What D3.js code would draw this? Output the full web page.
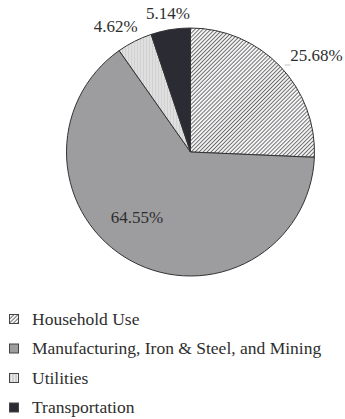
<!DOCTYPE html>
<html>
<head>
<meta charset="utf-8">
<script src="https://cdn.jsdelivr.net/npm/d3@7"></script>
<style>
  body { margin: 0; background: #fff; }
  text { font-family: "Liberation Serif", "DejaVu Serif", serif; fill: #2e2e2e; }
</style>
</head>
<body>
<div id="chart"></div>
<script>
// data
var categories = ['Household Use', 'Manufacturing, Iron & Steel, and Mining', 'Utilities', 'Transportation']
var values = [25.68, 64.55, 4.62, 5.14]
var labels = ['25.68%', '64.55%', '4.62%', '5.14%']

var width = 345, height = 419
var cx = 190.5, cy = 152, r = 124

var svg = d3.select('#chart').append('svg')
  .attr('width', width)
  .attr('height', height)

// patterns
var defs = svg.append('defs')
var hatch = defs.append('pattern')
  .attr('id', 'hatch')
  .attr('patternUnits', 'userSpaceOnUse')
  .attr('width', 2.8).attr('height', 2.8)
  .attr('patternTransform', 'rotate(45)')
hatch.append('rect').attr('width', 2.8).attr('height', 2.8).attr('fill', '#f4f4f4')
hatch.append('line').attr('x1', 0).attr('y1', 0).attr('x2', 0).attr('y2', 2.8)
  .attr('stroke', '#4a4a4e').attr('stroke-width', 1.5)

var vstripe = defs.append('pattern')
  .attr('id', 'vstripe')
  .attr('patternUnits', 'userSpaceOnUse')
  .attr('width', 3).attr('height', 3)
vstripe.append('rect').attr('width', 3).attr('height', 3).attr('fill', '#ededed')
vstripe.append('line').attr('x1', 1).attr('y1', 0).attr('x2', 1).attr('y2', 3)
  .attr('stroke', '#b5b5b5').attr('stroke-width', 1)

var fills = ['url(#hatch)', '#9d9d9f', 'url(#vstripe)', '#2b2c33']

var pie = d3.pie().sort(null).value(d => d)
var arcs = pie(values)
var arc = d3.arc().innerRadius(0).outerRadius(r)

var g = svg.append('g').attr('transform', 'translate(' + cx + ',' + cy + ')')

g.selectAll('path')
  .data(arcs)
  .enter()
  .append('path')
  .attr('d', arc)
  .attr('fill', (d, i) => fills[i])
  .attr('stroke', '#333')
  .attr('stroke-width', 1)

// label placement: angle (rad), radius, anchor
var labelAt = [
  {a: 0.832, rr: 135, anchor: 'start'},
  {a: 3.788, rr: 89, anchor: 'middle'},
  {a: 5.867, rr: 131, anchor: 'end'},
  {a: 6.115, rr: 135, anchor: 'middle'}
]

g.selectAll('.lbl')
  .data(arcs)
  .enter()
  .append('text')
  .attr('class', 'lbl')
  .attr('font-size', 17)
  .attr('text-anchor', (d, i) => labelAt[i].anchor)
  .attr('x', (d, i) => d3.pointRadial(labelAt[i].a, labelAt[i].rr)[0])
  .attr('y', (d, i) => d3.pointRadial(labelAt[i].a, labelAt[i].rr)[1])
  .text((d, i) => labels[i])

// short grey leader under the household label
g.append('line')
  .attr('x1', 94).attr('y1', -87)
  .attr('x2', 100).attr('y2', -87)
  .attr('stroke', '#c4c4c4').attr('stroke-width', 1)

// legend
var legend = svg.selectAll('.legend')
  .data(categories)
  .enter()
  .append('g')
  .attr('class', 'legend')
  .attr('transform', (d, i) => 'translate(9,' + (319 + i * 29.5) + ')')

legend.append('rect')
  .attr('x', 0.5).attr('y', -4.5)
  .attr('width', 9).attr('height', 9)
  .attr('fill', (d, i) => fills[i])
  .attr('stroke', '#444')
  .attr('stroke-width', 1)

legend.append('text')
  .attr('x', 23)
  .attr('y', 5.5)
  .attr('font-size', 17.5)
  .text(d => d)
</script>
</body>
</html>
